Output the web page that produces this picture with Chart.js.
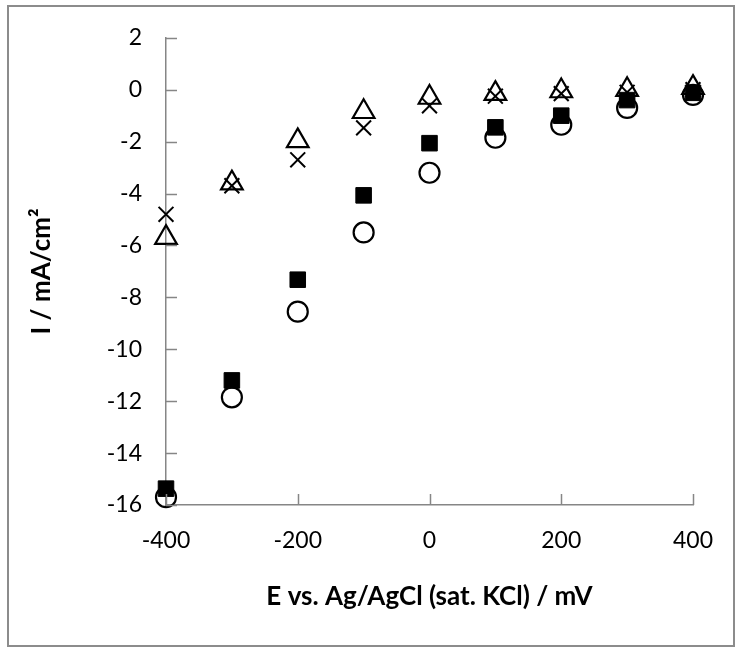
<!DOCTYPE html>
<html>
<head>
<meta charset="utf-8">
<script src="https://cdn.jsdelivr.net/npm/chart.js@4.4.0/dist/chart.umd.min.js"></script>
<style>
  html, body { margin: 0; padding: 0; background: #fff; }
  #wrap { position: relative; width: 741px; height: 650px; }
  #frame { position: absolute; left: 7px; top: 5px; width: 724px; height: 638px; border: 2px solid #8c8c8c; pointer-events: none; }
  canvas { position: absolute; left: 0; top: 0; }
</style>
</head>
<body>
<div id="wrap">
  <canvas id="chart" width="741" height="650"></canvas>
  <div id="frame"></div>
</div>
<script>
// potentials (mV) and current densities (mA/cm2)
const potentials = [-400, -300, -200, -100, 0, 100, 200, 300, 400];
const circleVals   = [-15.7, -11.85, -8.55, -5.5, -3.2, -1.85, -1.35, -0.7, -0.2];
const squareVals   = [-15.37, -11.2, -7.32, -4.07, -2.06, -1.45, -1.0, -0.4, -0.12];
const triangleVals = [-5.7, -3.6, -1.97, -0.85, -0.3, -0.15, -0.05, 0.0, 0.08];
const crossVals    = [-4.8, -3.7, -2.7, -1.47, -0.62, -0.25, -0.15, -0.1, 0.0];
const xTicks = [-400, -200, 0, 200, 400];
const yTicks = [2, 0, -2, -4, -6, -8, -10, -12, -14, -16];

const toPoints = vals => potentials.map((x, i) => ({ x, y: vals[i] }));
const axisGray = '#868686';
const tickFont = { family: 'Lato, "Open Sans", sans-serif', size: 23 };
const titleFont = { family: 'Lato, "Open Sans", sans-serif', size: 26, weight: 'bold' };

// inward tick marks like the original
const innerTicks = {
  id: 'innerTicks',
  afterDatasetsDraw(chart) {
    const { ctx, chartArea, scales } = chart;
    ctx.save();
    ctx.strokeStyle = axisGray;
    ctx.lineWidth = 1.5;
    ctx.beginPath();
    yTicks.forEach(v => {
      const y = Math.round(scales.y.getPixelForValue(v)) + 0.5;
      ctx.moveTo(chartArea.left, y);
      ctx.lineTo(chartArea.left + 11, y);
    });
    xTicks.forEach(v => {
      const x = Math.round(scales.x.getPixelForValue(v)) + 0.5;
      ctx.moveTo(x, chartArea.bottom);
      ctx.lineTo(x, chartArea.bottom - 11);
    });
    ctx.stroke();
    ctx.restore();
  }
};

new Chart(document.getElementById('chart'), {
  type: 'scatter',
  data: {
    datasets: [
      { label: 'circle', data: toPoints(circleVals), pointStyle: 'circle', pointRadius: 10, borderWidth: 2.2,
        borderColor: '#000', backgroundColor: 'rgba(255,255,255,0)', order: 4, clip: false },
      { label: 'square', data: toPoints(squareVals), pointStyle: 'rect', pointRadius: 11, borderWidth: 1,
        borderColor: '#000', backgroundColor: '#000', order: 3, clip: false },
      { label: 'triangle', data: toPoints(triangleVals), pointStyle: 'triangle', pointRadius: 12.5, borderWidth: 2.2,
        borderColor: '#000', backgroundColor: 'rgba(255,255,255,0)', order: 2, clip: false },
      { label: 'cross', data: toPoints(crossVals), pointStyle: 'crossRot', pointRadius: 10.5, borderWidth: 2,
        borderColor: '#000', backgroundColor: '#000', order: 1, clip: false }
    ]
  },
  options: {
    responsive: false,
    animation: false,
    layout: { padding: { top: 37, right: 48, left: 22, bottom: 34 } },
    plugins: { legend: { display: false }, tooltip: { enabled: false } },
    scales: {
      x: {
        type: 'linear', min: -400, max: 400,
        afterBuildTicks: s => { s.ticks = xTicks.map(v => ({ value: v })); },
        grid: { display: false, drawTicks: false },
        border: { display: true, color: axisGray, width: 1.5 },
        ticks: { color: '#000', font: tickFont, padding: 22 },
        title: { display: true, text: 'E vs. Ag/AgCl (sat. KCl) / mV', color: '#000', font: titleFont, padding: { top: 6 } },
        afterFit: s => { s.height = 111; }
      },
      y: {
        type: 'linear', min: -16, max: 2,
        afterBuildTicks: s => { s.ticks = yTicks.map(v => ({ value: v })); },
        grid: { display: false, drawTicks: false },
        border: { display: true, color: axisGray, width: 1.5 },
        ticks: { color: '#000', font: tickFont, padding: 24 },
        title: { display: true, text: 'I / mA/cm²', color: '#000', font: titleFont, padding: { bottom: 0 } },
        afterFit: s => { s.width = 144; }
      }
    }
  },
  plugins: [innerTicks]
});
</script>
</body>
</html>
